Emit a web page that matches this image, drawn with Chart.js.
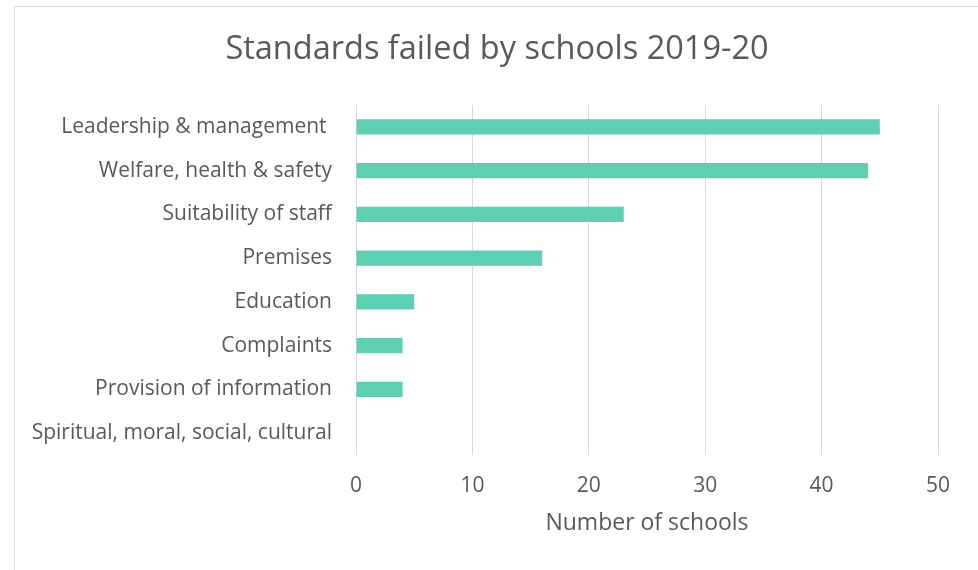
<!DOCTYPE html>
<html>
<head>
<meta charset="utf-8">
<script src="https://cdn.jsdelivr.net/npm/chart.js@4.4.1/dist/chart.umd.min.js"></script>
<style>
  html, body { margin: 0; padding: 0; background: #ffffff; }
  #wrap { position: relative; width: 978px; height: 570px; }
  #frame { position: absolute; left: 14px; top: 6px; width: 980px; height: 580px; border: 1px solid #d9d9d9; box-sizing: border-box; pointer-events: none; }
  canvas { position: absolute; left: 0; top: 0; }
</style>
</head>
<body>
<div id="wrap">
  <div id="frame"></div>
  <canvas id="c" width="978" height="570"></canvas>
</div>
<script>
const categories = [
  "Leadership & management ",
  "Welfare, health & safety",
  "Suitability of staff",
  "Premises",
  "Education",
  "Complaints",
  "Provision of information",
  "Spiritual, moral, social, cultural"
];
const schoolCounts = [45, 44, 23, 16, 5, 4, 4, 0];
const xTickValues = [0, 10, 20, 30, 40, 50];

const FONT = "'Open Sans', 'Noto Sans', sans-serif";
const GREY = "#595959";

new Chart(document.getElementById("c"), {
  type: "bar",
  data: {
    labels: categories,
    datasets: [{
      label: "Number of schools",
      data: schoolCounts,
      backgroundColor: "#5ecfb1",
      borderWidth: 0,
      barPercentage: 0.343,
      categoryPercentage: 1.0
    }]
  },
  options: {
    indexAxis: "y",
    responsive: false,
    animation: false,
    layout: { padding: { left: 16, right: 0, top: 0, bottom: 30 } },
    plugins: {
      legend: { display: false },
      tooltip: { enabled: false },
      title: {
        display: true,
        text: "Standards failed by schools 2019-20",
        color: GREY,
        font: { family: FONT, size: 32.5, weight: "normal" },
        padding: { top: 30.5, bottom: 35.5 }
      }
    },
    scales: {
      x: {
        type: "linear",
        min: xTickValues[0],
        max: xTickValues[xTickValues.length - 1],
        afterBuildTicks: (scale) => { scale.ticks = xTickValues.map(v => ({ value: v })); },
        afterFit: (scale) => { scale.height = 85; },
        grid: { color: "#d9d9d9", lineWidth: 1, drawTicks: false },
        border: { display: false },
        ticks: { color: GREY, font: { family: FONT, size: 21 }, padding: 18 },
        title: {
          display: true,
          text: "Number of schools",
          color: GREY,
          font: { family: FONT, size: 23 },
          padding: { top: 12, bottom: 3 }
        }
      },
      y: {
        position: "left",
        afterFit: (scale) => { scale.width = 340; },
        grid: { display: false, drawTicks: false },
        border: { display: false },
        ticks: { color: GREY, font: { family: FONT, size: 21 }, padding: 24 }
      },
      yRightSpace: {
        type: "category",
        position: "right",
        afterFit: (scale) => { scale.width = 40; },
        grid: { display: false, drawTicks: false },
        border: { display: false },
        ticks: { display: false }
      }
    }
  }
});
</script>
</body>
</html>
